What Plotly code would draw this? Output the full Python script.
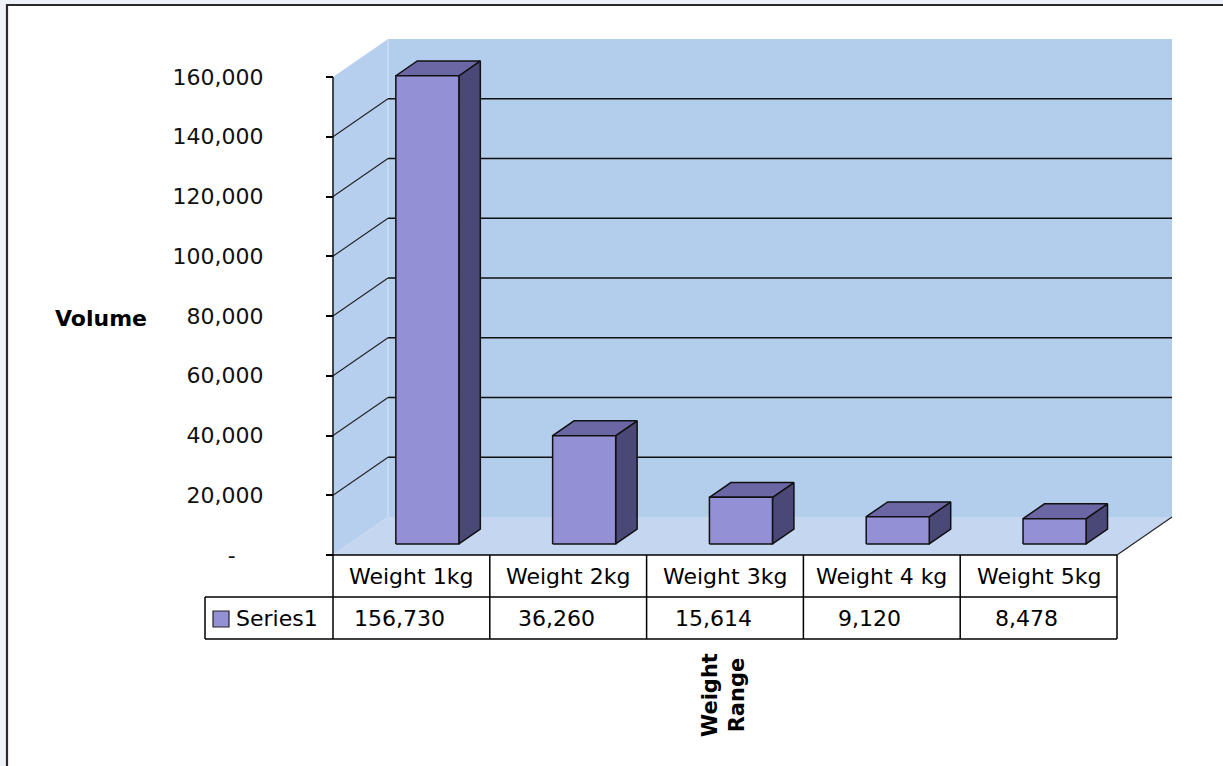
import plotly.graph_objects as go

# ---------------- data ----------------
categories = ["Weight 1kg", "Weight 2kg", "Weight 3kg", "Weight 4 kg", "Weight 5kg"]
series_name = "Series1"
values = [156730, 36260, 15614, 9120, 8478]
tick_values = [0, 20000, 40000, 60000, 80000, 100000, 120000, 140000, 160000]
tick_labels = ["-" + "\u00a0" * 4, "20,000", "40,000", "60,000", "80,000",
               "100,000", "120,000", "140,000", "160,000"]
y_title = "Volume"
x_title = "Weight<br>Range"

# ---------------- layout constants (pixels) ----------------
W, H = 1223, 766
X0_PX = 333.0          # front-left corner of floor
CAT_PX = 156.8         # width of one category
Y0_PX = 555.0          # front floor line
PXU = 59.75 / 20000.0  # pixels per value unit
DEPTH_PX = (55.0, 38.0)

DX = DEPTH_PX[0] / CAT_PX
DY = DEPTH_PX[1] / PXU
YMAX = tick_values[-1]
N = len(categories)

def xd(px):
    return (px - X0_PX) / CAT_PX

def yd(px):
    return (Y0_PX - px) / PXU

FONT = "DejaVu Sans"
FS = 22

BACK = "#B3CDED"
SIDE = "#B7CFEE"
FLOOR = "#C5D6F0"
FRONT_C = "#9490D6"
TOP_C = "#6B67A5"
SIDE_C = "#4A4877"
EDGE = "#111111"

fig = go.Figure()

def poly(xs, ys, fill, line_color=None, width=0):
    fig.add_trace(go.Scatter(
        x=xs + [xs[0]], y=ys + [ys[0]], mode="lines", fill="toself",
        fillcolor=fill,
        line=dict(color=line_color or fill, width=width),
        hoverinfo="skip", showlegend=False))

def seg(xs, ys, color=EDGE, width=1.3, dash="solid"):
    fig.add_trace(go.Scatter(
        x=xs, y=ys, mode="lines", line=dict(color=color, width=width, dash=dash),
        hoverinfo="skip", showlegend=False))

# walls and floor
poly([0, 0, DX, DX], [0, YMAX, YMAX + DY, DY], SIDE)
poly([DX, DX, N + DX, N + DX], [DY, YMAX + DY, YMAX + DY, DY], BACK)
poly([0, DX, N + DX, N], [0, DY, DY, 0], FLOOR)
seg([DX, DX], [DY, YMAX + DY], color="#D2E1F5", width=1.2)

# gridlines: back wall + side wall diagonals
for v in tick_values[1:-1]:
    seg([DX, N + DX], [v + DY, v + DY], width=1.4)
    seg([0, DX], [v, v + DY], color="#222222", width=1.1)

# right floor edge diagonal
seg([N, N + DX], [0, DY], color="#222222", width=1.1)

# y axis line
seg([0, 0], [0, YMAX], color=EDGE, width=1.5)

# 3D bars
HW = 0.201
Z0, Z1 = 0.29, 0.68
for i, v in enumerate(values):
    cx = i + 0.5
    xl0, xr0 = cx - HW + Z0 * DX, cx + HW + Z0 * DX
    xl1, xr1 = cx - HW + Z1 * DX, cx + HW + Z1 * DX
    yb0, yb1 = Z0 * DY, Z1 * DY
    yt0, yt1 = v + Z0 * DY, v + Z1 * DY
    poly([xr0, xr0, xr1, xr1], [yb0, yt0, yt1, yb1], SIDE_C, EDGE, 1.5)
    poly([xl0, xr0, xr1, xl1], [yt0, yt0, yt1, yt1], TOP_C, EDGE, 1.5)
    poly([xl0, xr0, xr0, xl0], [yb0, yb0, yt0, yt0], FRONT_C, EDGE, 1.5)

shapes = []
# outer chart border (extends beyond right/bottom)
shapes.append(dict(type="rect", xref="paper", yref="paper",
                   x0=7 / W, x1=1.05, y0=-0.05, y1=1 - 5 / H,
                   fillcolor="white", line=dict(color="#2a2a2a", width=2.2),
                   layer="below"))

# data table lines
ROW1, ROW2 = 597.0, 639.0
LEG_X = 205.0
tl = dict(color="#000000", width=1.5)
shapes.append(dict(type="line", xref="x", yref="y", x0=0, x1=N, y0=0, y1=0, line=tl))
for r in (ROW1, ROW2):
    shapes.append(dict(type="line", xref="x", yref="y", x0=xd(LEG_X), x1=N,
                       y0=yd(r), y1=yd(r), line=tl))
for k in range(N + 1):
    shapes.append(dict(type="line", xref="x", yref="y", x0=k, x1=k,
                       y0=0, y1=yd(ROW2), line=tl))
shapes.append(dict(type="line", xref="x", yref="y", x0=xd(LEG_X), x1=xd(LEG_X),
                   y0=yd(ROW1), y1=yd(ROW2), line=tl))
# legend key square
shapes.append(dict(type="rect", xref="x", yref="y", x0=xd(213), x1=xd(229),
                   y0=yd(611), y1=yd(627), fillcolor=FRONT_C,
                   line=dict(color="#222222", width=1.2)))

annotations = []
for i, (c, v) in enumerate(zip(categories, values)):
    annotations.append(dict(x=i + 0.5, y=yd(576.5), xref="x", yref="y", text=c,
                            showarrow=False, font=dict(family=FONT, size=FS, color="#000")))
    annotations.append(dict(x=i + 0.5, y=yd(618), xref="x", yref="y", text=f"{v:,}",
                            xshift=-12, showarrow=False,
                            font=dict(family=FONT, size=FS, color="#000")))
annotations.append(dict(x=xd(234), y=yd(618), xref="x", yref="y", text=series_name,
                        xanchor="left", showarrow=False,
                        font=dict(family=FONT, size=FS, color="#000")))
annotations.append(dict(x=xd(101), y=yd(318), xref="x", yref="y", text=f"<b>{y_title}</b>",
                        showarrow=False, font=dict(family=FONT, size=FS, color="#000")))
annotations.append(dict(x=xd(723), y=yd(695), xref="x", yref="y", text=f"<b>{x_title}</b>",
                        textangle=-90, showarrow=False,
                        font=dict(family=FONT, size=FS - 1, color="#000")))

fig.update_layout(
    width=W, height=H,
    margin=dict(l=0, r=0, t=0, b=0),
    paper_bgcolor="#EEF1F7",
    plot_bgcolor="rgba(0,0,0,0)",
    showlegend=False,
    shapes=shapes,
    annotations=annotations,
    xaxis=dict(range=[xd(0), xd(W)], visible=False, fixedrange=True),
    yaxis=dict(range=[yd(H), yd(0)], anchor="free", position=X0_PX / W,
               tickvals=tick_values, ticktext=tick_labels,
               ticks="outside", ticklen=7, tickwidth=1.5, tickcolor="#000",
               ticklabelstandoff=58,
               tickfont=dict(family=FONT, size=FS, color="#111"),
               showgrid=False, zeroline=False, showline=False, fixedrange=True),
)

fig.write_html("out.html", config={"displayModeBar": False},
               post_script="document.body.style.margin='0';document.body.style.overflow='hidden';")
